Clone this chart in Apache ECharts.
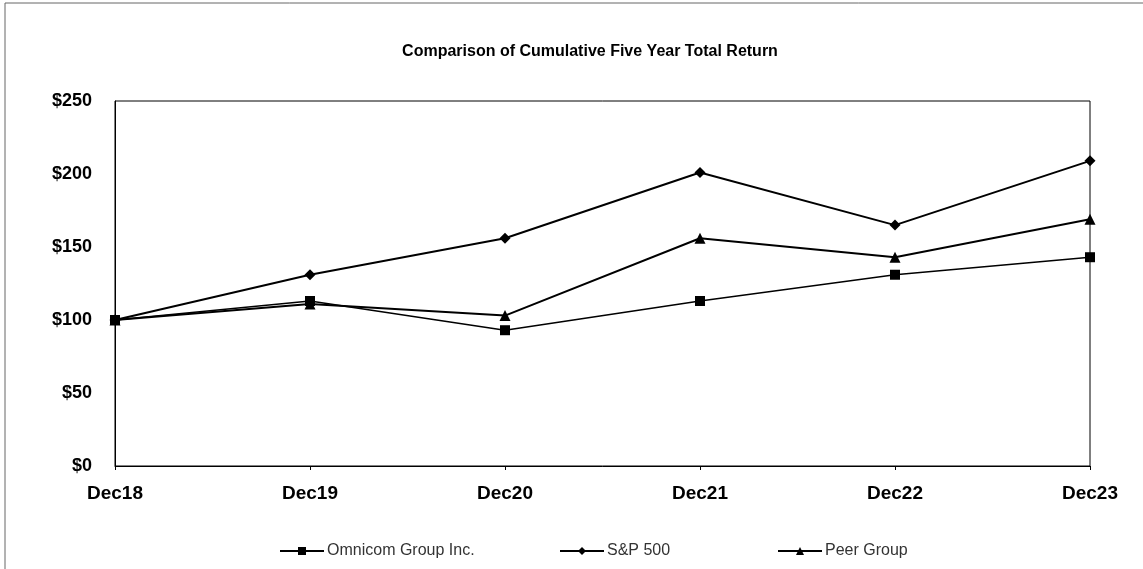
<!DOCTYPE html>
<html><head><meta charset="utf-8">
<script src="https://cdn.jsdelivr.net/npm/echarts@6/dist/echarts.min.js"></script>
<style>html,body{margin:0;padding:0;background:#fff}#c{width:1143px;height:569px}</style>
</head><body><div id="c"></div>
<script>
const categories = ['Dec18','Dec19','Dec20','Dec21','Dec22','Dec23'];
const omnicom = [100, 113, 93, 113, 131, 143];
const sp500 = [100, 131, 156, 201, 165, 209];
const peer = [100, 111, 103, 156, 143, 169];
const yTicks = [0, 50, 100, 150, 200, 250];
const seriesNames = ['Omnicom Group Inc.', 'S&P 500', 'Peer Group'];

const chart = echarts.init(document.getElementById('c'));
const font = 'Liberation Sans, Arial, sans-serif';
function s(name, data, symbol, size, w) {
  return { name, type: 'line', data, symbol, symbolSize: size,
    lineStyle: { color: '#000', width: w }, itemStyle: { color: '#000' },
    emphasis: { disabled: true }, animation: false };
}
function lg(name, left) {
  return { data: [name], left, top: 543, itemWidth: 44, itemHeight: 10, itemGap: 0,
    padding: 0, textStyle: { fontFamily: font, fontSize: 16, color: '#333', padding: [0,0,0,-2] } };
}
chart.setOption({
  animation: false,
  title: { text: 'Comparison of Cumulative Five Year Total Return', left: 585, textAlign: 'center', top: 39,
    textStyle: { fontFamily: font, fontSize: 16, fontWeight: 'bold', color: '#000' } },
  grid: { left: 115, right: 53, top: 101, bottom: 103, show: true, borderColor: '#000', borderWidth: 1 },
  xAxis: { type: 'category', data: categories, boundaryGap: false,
    axisLine: { lineStyle: { color: '#000' } },
    axisTick: { show: true, alignWithLabel: true, length: 4, lineStyle: { color: '#000' } },
    axisLabel: { fontFamily: font, fontSize: 19, fontWeight: 'bold', color: '#000', margin: 18 },
    splitLine: { show: false } },
  yAxis: { type: 'value', min: yTicks[0], max: yTicks[yTicks.length-1], interval: 50,
    axisLine: { show: true, lineStyle: { color: '#000' } },
    axisTick: { show: false },
    axisLabel: { fontFamily: font, fontSize: 18, fontWeight: 'bold', color: '#000', margin: 23,
      formatter: v => '$' + v },
    splitLine: { show: false } },
  legend: [lg(seriesNames[0], 279), lg(seriesNames[1], 559), lg(seriesNames[2], 777)],
  graphic: [
    { type: 'polyline', shape: { points: [[5, 569], [5, 3], [1143, 3]] },
      style: { fill: 'none', stroke: '#666', lineWidth: 1 }, silent: true }
  ],
  series: [
    s(seriesNames[0], omnicom, 'rect', 10, 1.5),
    s(seriesNames[1], sp500, 'diamond', 11, 2),
    s(seriesNames[2], peer, 'triangle', 11, 2)
  ]
});
</script></body></html>
